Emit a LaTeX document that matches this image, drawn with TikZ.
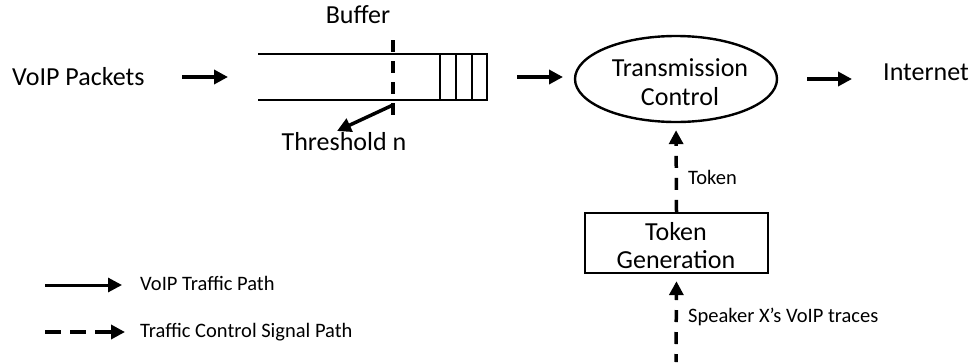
\documentclass[tikz,border=0pt]{standalone}
\usepackage{fontspec}
\setmainfont{Carlito}
\usetikzlibrary{arrows.meta,shapes.geometric}
\begin{document}
\begin{tikzpicture}[x=1pt,y=-1pt,
  big/.style={font=\fontsize{26}{29}\selectfont, inner sep=0pt},
  small/.style={font=\fontsize{20.5}{24}\selectfont, inner sep=0pt},
  tip/.style={-{Triangle[length=14pt,width=14pt]}},
  flow/.style={tip, line width=3.5pt},
  signal/.style={tip, line width=3.5pt, dash pattern=on 12pt off 10pt},
  wall/.style={line width=2.8pt},
]
\useasboundingbox (0,0) rectangle (969,362);

% labels of the main path
\node[big, anchor=base west] (vp) at (12,85) {VoIP Packets};
\node[big, anchor=base] (buflabel) at (358,23) {Buffer};
\node[big, anchor=base] (thr) at (344,150) {Threshold n};
\node[big, anchor=base west] (net) at (883,80) {Internet};

% the buffer queue
\draw[wall] (258,54) -- (487,54) -- (487,100) -- (258,100);
\foreach \x in {440,456,472}
  \draw[wall] (\x,54) -- (\x,100);
\coordinate (thtop) at (393,40);
\coordinate (thbot) at (393,118);
\draw[line width=3.5pt, dash pattern=on 12pt off 9pt] (thtop) -- (thbot);
\coordinate (thfoot) at (393,105);
\coordinate (thtip) at (337,131);
\draw[flow] (thfoot) -- (thtip);

% transmission control and token generator
\node[ellipse, draw, line width=2.4pt, minimum width=202pt, minimum height=86pt,
      inner sep=0pt] (tc) at (676,79) {};
\node[big, anchor=base] (tc1) at (680,76) {Transmission};
\node[big, anchor=base] (tc2) at (680,105) {Control};
\node[rectangle, draw, line width=2.4pt, minimum width=183pt, minimum height=60pt,
      inner sep=0pt] (tg) at (676.5,243) {};
\node[big, anchor=base] (tg1) at (676,240) {Token};
\node[big, anchor=base] (tg2) at (676,268) {Generation};

% main traffic arrows
\coordinate (a1s) at (182,77); \coordinate (a1e) at (228,77);
\coordinate (a2s) at (517,77); \coordinate (a2e) at (563,77);
\coordinate (a3s) at (807,79); \coordinate (a3e) at (852,79);
\draw[flow] (a1s) -- (a1e);
\draw[flow] (a2s) -- (a2e);
\draw[flow] (a3s) -- (a3e);

% control signals
\draw[signal, shorten >=7pt] (tg.north) -- (tc.south);
\coordinate (trace) at (676,362);
\draw[signal, shorten >=7pt, dash phase=4pt] (trace) -- (tg.south);
\node[small, anchor=west] (toklabel) at (688,177) {Token};
\node[small, anchor=west] (spk) at (688,317) {Speaker X’s VoIP traces};

% legend
\coordinate (l1s) at (45,285); \coordinate (l1e) at (122,285);
\coordinate (l2s) at (45,332); \coordinate (l2e) at (125,332);
\draw[tip, line width=3pt] (l1s) -- (l1e);
\draw[tip, line width=3.5pt, dash pattern=on 16pt off 9pt] (l2s) -- (l2e);
\node[small, anchor=west] (leg1) at (140,283) {VoIP Traffic Path};
\node[small, anchor=west] (leg2) at (140,332) {Traffic Control Signal Path};
\end{tikzpicture}
\end{document}
